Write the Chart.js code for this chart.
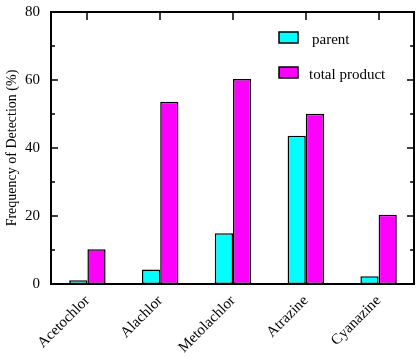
<!DOCTYPE html>
<html>
<head>
<meta charset="utf-8">
<script src="https://cdn.jsdelivr.net/npm/chart.js@4.4.1/dist/chart.umd.min.js"></script>
<style>
  html, body { margin: 0; padding: 0; background: #fff; font-family: "Liberation Serif", serif; }
  #wrap { width: 416px; height: 358px; }
  #probe { position: absolute; left: -999px; top: 0; font: 15px "Liberation Serif"; }
</style>
</head>
<body>
<span id="probe">Frequency 0123</span>
<div id="wrap"><canvas id="chart" width="416" height="358"></canvas></div>
<script>
// data
const categories = ['Acetochlor', 'Alachlor', 'Metolachlor', 'Atrazine', 'Cyanazine'];
const parentVals = [1.1, 4.3, 14.9, 43.6, 2.3];
const totalVals  = [10.2, 53.6, 60.3, 50.1, 20.4];
const yTickLabels = [0, 20, 40, 60, 80];
const seriesNames = ['parent', 'total product'];

const serif = "'Liberation Serif', 'Times New Roman', serif";

// frame, inside ticks and the legend box drawn on top of the chart area
const framePlugin = {
  id: 'frame',
  afterDatasetsDraw(chart) {
    const { ctx, chartArea: a, scales } = chart;
    const y = scales.y, x = scales.x;
    ctx.save();
    ctx.strokeStyle = '#000';
    ctx.lineWidth = 2;
    ctx.strokeRect(a.left, a.top, a.right - a.left - 1, a.bottom - a.top);

    ctx.lineWidth = 1.5;
    ctx.beginPath();
    for (let v = 10; v < 80; v += 10) {
      const py = Math.round(y.getPixelForValue(v));
      const len = v % 20 === 0 ? 7 : 4;
      ctx.moveTo(a.left, py); ctx.lineTo(a.left + len, py);
      ctx.moveTo(a.right - 1, py); ctx.lineTo(a.right - 1 - len, py);
    }
    categories.forEach((c, i) => {
      const px = Math.round(x.getPixelForValue(i));
      ctx.moveTo(px, a.top); ctx.lineTo(px, a.top + 8);
    });
    ctx.stroke();

    // legend
    const items = chart.data.datasets;
    const boxY = [32, 67];
    const textX = [312, 309];
    ctx.font = '15px ' + serif;
    ctx.textBaseline = 'middle';
    ctx.lineWidth = 1.5;
    items.forEach((ds, i) => {
      ctx.fillStyle = ds.backgroundColor;
      ctx.fillRect(279, boxY[i], 19, 11);
      ctx.strokeRect(279, boxY[i], 19, 11);
      ctx.fillStyle = '#000';
      ctx.fillText(ds.label, textX[i], boxY[i] + 8);
    });
    ctx.restore();
  }
};

function draw() {
  new Chart(document.getElementById('chart'), {
    type: 'bar',
    data: {
      labels: categories,
      datasets: [
        { label: seriesNames[0], data: parentVals, backgroundColor: '#00ffff',
          borderColor: '#000', borderWidth: 1.5, borderSkipped: false },
        { label: seriesNames[1], data: totalVals, backgroundColor: '#ff00ff',
          borderColor: '#000', borderWidth: 1.5, borderSkipped: false }
      ]
    },
    options: {
      responsive: false,
      animation: false,
      layout: { padding: { top: 11, right: 1, left: 0, bottom: 0 } },
      categoryPercentage: 0.5,
      barPercentage: 1.0,
      plugins: { legend: { display: false }, tooltip: { enabled: false } },
      scales: {
        x: {
          grid: { display: false },
          border: { display: false },
          ticks: {
            color: '#000', font: { family: serif, size: 15 },
            minRotation: 45, maxRotation: 45, padding: 0, autoSkip: false
          },
          afterFit(s) { s.height = 74; }
        },
        y: {
          min: 0, max: 80,
          grid: { display: false },
          border: { display: false },
          ticks: {
            stepSize: 20, color: '#000', padding: 3,
            font: { family: serif, size: 15 },
            callback: v => yTickLabels.includes(v) ? String(v) : ''
          },
          title: {
            display: true, text: 'Frequency of Detection (%)', color: '#000',
            font: { family: serif, size: 14 }, padding: { top: 4, bottom: 0 }
          },
          afterFit(s) { s.width = 51; }
        }
      }
    },
    plugins: [framePlugin]
  });
}

if (document.fonts && document.fonts.load) {
  document.fonts.load("15px 'Liberation Serif'").then(draw, draw);
} else {
  draw();
}
</script>
</body>
</html>
